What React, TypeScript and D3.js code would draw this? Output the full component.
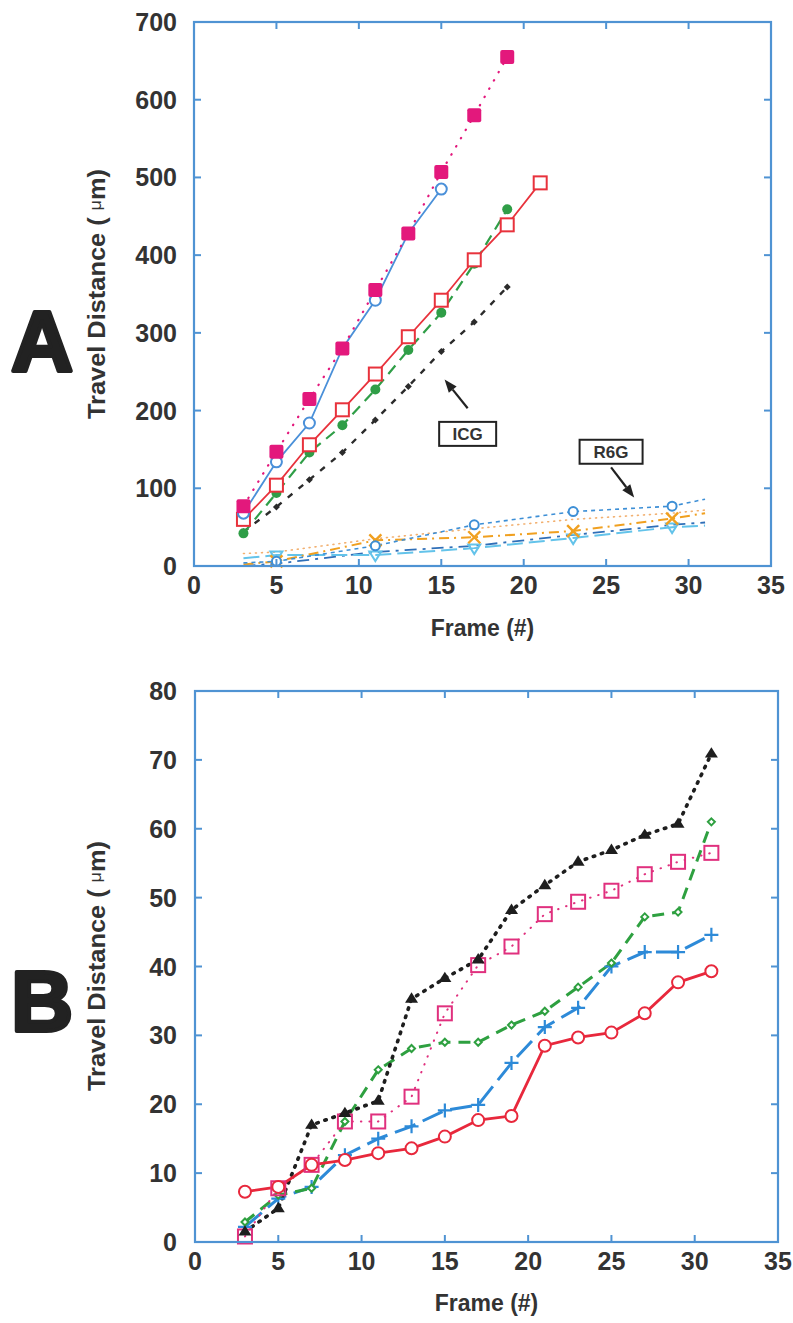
import React, { useEffect, useRef } from 'react';
import * as d3 from 'd3';

const W = 793;
const H = 1323;

// ---- panel A data (travel distance, um) ----
const xTicks = [0, 5, 10, 15, 20, 25, 30, 35];
const yTicksA = [0, 100, 200, 300, 400, 500, 600, 700];
const yTicksB = [0, 10, 20, 30, 40, 50, 60, 70, 80];

const framesIcg = [3, 5, 7, 9, 11, 13, 15, 17, 19, 21];
const icgMagenta = [77, 147, 215, 280, 355, 428, 507, 580, 655];
const icgBlue = [68, 134, 184, 280, 342, 428, 485];
const icgRed = [60, 104, 156, 201, 247, 295, 342, 394, 439, 493];
const icgGreen = [42, 94, 146, 181, 227, 278, 326, 389, 459];
const icgBlack = [44, 76, 111, 146, 188, 231, 276, 314, 359];

const framesR6g = [3, 5, 11, 17, 23, 29, 31];
const r6gCircle = [4, 6, 26, 53, 70, 77, 86];
const r6gDotted = [16, 18, 35, 48, 60, 68, 72];
const r6gCross = [2, 6, 33, 37, 45, 61, 68];
const r6gDash = [0, 3, 18, 26, 40, 53, 56];
const r6gTri = [10, 14, 14, 23, 36, 50, 52];

// ---- panel B data ----
const framesB = [3, 5, 7, 9, 11, 13, 15, 17, 19, 21, 23, 25, 27, 29, 31];
const bRed = [7.3, 8.0, 11.2, 11.9, 12.9, 13.6, 15.3, 17.7, 18.3, 28.5, 29.7, 30.4, 33.2, 37.7, 39.3];
const bBlack = [1.5, 4.9, 17.0, 18.7, 20.5, 35.3, 38.3, 41.0, 48.2, 51.8, 55.2, 56.9, 59.1, 60.7, 70.9];
const bMagenta = [0.8, 7.8, 11.2, 17.5, 17.5, 21.1, 33.2, 40.2, 42.9, 47.6, 49.4, 51.0, 53.4, 55.2, 56.5];
const bGreen = [2.9, 6.8, 7.8, 17.5, 25.0, 28.1, 29.0, 29.0, 31.5, 33.5, 37.0, 40.5, 47.2, 47.9, 61.0];
const bBlue = [2.2, 6.3, 8.0, 12.6, 15.0, 16.8, 19.1, 19.9, 26.0, 31.2, 34.0, 40.0, 42.1, 42.1, 44.6];

const AXIS = '#4f93d3';
const TEXT = '#333';
const FONT = '"Liberation Sans", Arial, Helvetica, sans-serif';

type Series = {
  frames: number[];
  values: number[];
  color: string;
  width: number;
  dash: string | null;
  cap?: string;
  marker: string | null;
  size: number;
  markAt?: number[];
};

const seriesA: Series[] = [
  { frames: framesIcg, values: icgBlack, color: '#2b2b2b', width: 2.4, dash: '6,8', marker: 'diamond', size: 3.5 },
  { frames: framesIcg, values: icgGreen, color: '#2f9e47', width: 2.2, dash: '11,7', marker: 'circleFill', size: 5 },
  { frames: framesIcg, values: icgRed, color: '#e8323c', width: 1.8, dash: null, marker: 'square', size: 6.5 },
  { frames: framesIcg, values: icgBlue, color: '#4a90d9', width: 1.8, dash: null, marker: 'circle', size: 5.5 },
  { frames: framesIcg, values: icgMagenta, color: '#e3187c', width: 2.2, dash: '0.5,9', cap: 'round', marker: 'squareFill', size: 7 },
  { frames: framesR6g, values: r6gDash, color: '#2f6fb8', width: 1.8, dash: '12,6,3,6', marker: null, size: 0 },
  { frames: framesR6g, values: r6gDotted, color: '#f2b070', width: 1.6, dash: '1,5', cap: 'round', marker: null, size: 0 },
  { frames: framesR6g, values: r6gTri, color: '#63c3ea', width: 2, dash: '16,6', marker: 'triDown', size: 6, markAt: [5, 11, 17, 23, 29] },
  { frames: framesR6g, values: r6gCross, color: '#f0a020', width: 2, dash: '10,5,2,5', marker: 'x', size: 6, markAt: [5, 11, 17, 23, 29] },
  { frames: framesR6g, values: r6gCircle, color: '#3d8fd6', width: 1.6, dash: '4,4', marker: 'circle', size: 4.5, markAt: [5, 11, 17, 23, 29] },
];

const seriesB: Series[] = [
  { frames: framesB, values: bBlue, color: '#2d8ad8', width: 3, dash: '22,8', marker: 'plus', size: 7 },
  { frames: framesB, values: bGreen, color: '#2ea040', width: 3, dash: '12,8', marker: 'diamondOpen', size: 3.5 },
  { frames: framesB, values: bMagenta, color: '#e0307e', width: 2, dash: '0.5,8', cap: 'round', marker: 'squareOpen', size: 7 },
  { frames: framesB, values: bBlack, color: '#1e1e1e', width: 3.6, dash: '1.5,7', cap: 'round', marker: 'triUp', size: 6.5 },
  { frames: framesB, values: bRed, color: '#e8283c', width: 2.8, dash: null, marker: 'circle', size: 6 },
];

type Sel = d3.Selection<SVGGElement, unknown, null, undefined>;

const drawMarker = (g: Sel, type: string, cx: number, cy: number, color: string, s: number) => {
  if (type === 'squareFill') {
    g.append('rect').attr('x', cx - s).attr('y', cy - s).attr('width', 2 * s).attr('height', 2 * s)
      .attr('rx', 2).attr('fill', color);
  } else if (type === 'square' || type === 'squareOpen') {
    g.append('rect').attr('x', cx - s).attr('y', cy - s).attr('width', 2 * s).attr('height', 2 * s)
      .attr('fill', type === 'square' ? '#fff' : 'none').attr('stroke', color).attr('stroke-width', 2);
  } else if (type === 'circle') {
    g.append('circle').attr('cx', cx).attr('cy', cy).attr('r', s)
      .attr('fill', '#fff').attr('stroke', color).attr('stroke-width', 2);
  } else if (type === 'circleFill') {
    g.append('circle').attr('cx', cx).attr('cy', cy).attr('r', s).attr('fill', color);
  } else if (type === 'diamond') {
    g.append('path').attr('d', `M${cx},${cy - s}L${cx + s},${cy}L${cx},${cy + s}L${cx - s},${cy}Z`).attr('fill', color);
  } else if (type === 'diamondOpen') {
    g.append('path').attr('d', `M${cx},${cy - s}L${cx + s},${cy}L${cx},${cy + s}L${cx - s},${cy}Z`)
      .attr('fill', '#fff').attr('stroke', color).attr('stroke-width', 2);
  } else if (type === 'x') {
    g.append('path').attr('d', `M${cx - s},${cy - s}L${cx + s},${cy + s}M${cx + s},${cy - s}L${cx - s},${cy + s}`)
      .attr('stroke', color).attr('stroke-width', 2.4);
  } else if (type === 'plus') {
    g.append('path').attr('d', `M${cx - s},${cy}L${cx + s},${cy}M${cx},${cy - s}L${cx},${cy + s}`)
      .attr('stroke', color).attr('stroke-width', 2.2);
  } else if (type === 'triDown') {
    g.append('path').attr('d', `M${cx - s},${cy - s * 0.6}L${cx + s},${cy - s * 0.6}L${cx},${cy + s}Z`)
      .attr('fill', 'none').attr('stroke', color).attr('stroke-width', 2);
  } else if (type === 'triUp') {
    g.append('path').attr('d', `M${cx - s},${cy + s * 0.6}L${cx + s},${cy + s * 0.6}L${cx},${cy - s}Z`).attr('fill', color);
  }
};

const drawFrame = (g: Sel, x: d3.ScaleLinear<number, number>, y: d3.ScaleLinear<number, number>, yTicks: number[], xTitleY: number, titleCy: number) => {
  const [x0, x1] = x.range();
  const [y0, y1] = y.range();
  const tick = 7;

  g.append('rect').attr('x', x0).attr('y', y1).attr('width', x1 - x0).attr('height', y0 - y1)
    .attr('fill', 'none').attr('stroke', AXIS).attr('stroke-width', 2.2);

  xTicks.forEach(t => {
    const px = x(t);
    g.append('line').attr('x1', px).attr('x2', px).attr('y1', y0).attr('y2', y0 - tick).attr('stroke', AXIS).attr('stroke-width', 2);
    g.append('line').attr('x1', px).attr('x2', px).attr('y1', y1).attr('y2', y1 + tick).attr('stroke', AXIS).attr('stroke-width', 2);
    g.append('text').attr('x', px).attr('y', y0 + 28).attr('text-anchor', 'middle')
      .attr('fill', TEXT).style('font-family', FONT).style('font-size', '25px').style('font-weight', 'bold').text(t);
  });

  yTicks.forEach(t => {
    const py = y(t);
    g.append('line').attr('x1', x0).attr('x2', x0 + tick).attr('y1', py).attr('y2', py).attr('stroke', AXIS).attr('stroke-width', 2);
    g.append('line').attr('x1', x1).attr('x2', x1 - tick).attr('y1', py).attr('y2', py).attr('stroke', AXIS).attr('stroke-width', 2);
    g.append('text').attr('x', 177).attr('y', py + 9).attr('text-anchor', 'end')
      .attr('fill', TEXT).style('font-family', FONT).style('font-size', '25px').style('font-weight', 'bold').text(t);
  });

  g.append('text').attr('x', (x0 + x1) / 2).attr('y', xTitleY).attr('text-anchor', 'middle')
    .attr('fill', TEXT).style('font-family', FONT).style('font-size', '23px').style('font-weight', 'bold').text('Frame (#)');

  const yt = g.append('text')
    .attr('transform', `translate(105, ${titleCy}) rotate(-90)`)
    .attr('text-anchor', 'middle')
    .attr('textLength', 250).attr('lengthAdjust', 'spacingAndGlyphs')
    .attr('fill', TEXT).style('font-family', '"Liberation Sans Narrow", "Liberation Sans", Arial, sans-serif')
    .style('font-size', '24px').style('font-weight', 'bold');
  yt.append('tspan').text('Travel Distance ( ');
  yt.append('tspan').style('font-size', '17px').style('font-weight', 'normal').attr('dy', -4).text('\u03bc');
  yt.append('tspan').attr('dy', 4).text('m)');
};

const drawSeries = (g: Sel, list: Series[], x: d3.ScaleLinear<number, number>, y: d3.ScaleLinear<number, number>) => {
  list.forEach(s => {
    const pts: [number, number][] = s.values.map((v, i) => [s.frames[i], v]);
    const line = d3.line<[number, number]>().x(d => x(d[0])).y(d => y(d[1]));
    const p = g.append('path').attr('d', line(pts)).attr('fill', 'none')
      .attr('stroke', s.color).attr('stroke-width', s.width).attr('stroke-linecap', s.cap || 'butt');
    if (s.dash) p.attr('stroke-dasharray', s.dash);
  });
  list.forEach(s => {
    if (!s.marker) return;
    s.values.forEach((v, i) => {
      const f = s.frames[i];
      if (s.markAt && !s.markAt.includes(f)) return;
      drawMarker(g, s.marker as string, x(f), y(v), s.color, s.size);
    });
  });
};

const drawLabel = (g: Sel, x: d3.ScaleLinear<number, number>, y: d3.ScaleLinear<number, number>, label: string, bx: number, by: number, w: number) => {
  const cx = x(bx);
  const cy = y(by);
  g.append('rect').attr('x', cx - w / 2).attr('y', cy - 12).attr('width', w).attr('height', 24)
    .attr('fill', '#fff').attr('stroke', '#222').attr('stroke-width', 2);
  g.append('text').attr('x', cx).attr('y', cy + 6).attr('text-anchor', 'middle')
    .attr('fill', TEXT).style('font-family', FONT).style('font-size', '17px').style('font-weight', 'bold').text(label);
};

const drawArrow = (g: Sel, x: d3.ScaleLinear<number, number>, y: d3.ScaleLinear<number, number>, from: [number, number], to: [number, number]) => {
  const x1 = x(from[0]), y1 = y(from[1]), x2 = x(to[0]), y2 = y(to[1]);
  const a = Math.atan2(y2 - y1, x2 - x1);
  const L = 13, hw = 5;
  const bx = x2 - L * Math.cos(a), by = y2 - L * Math.sin(a);
  g.append('line').attr('x1', x1).attr('y1', y1).attr('x2', bx).attr('y2', by).attr('stroke', '#222').attr('stroke-width', 2.2);
  g.append('path')
    .attr('d', `M${x2},${y2}L${bx + hw * Math.sin(a)},${by - hw * Math.cos(a)}L${bx - hw * Math.sin(a)},${by + hw * Math.cos(a)}Z`)
    .attr('fill', '#222');
};

export default function App() {
  const ref = useRef<SVGSVGElement>(null);

  useEffect(() => {
    const svg = d3.select(ref.current);
    svg.selectAll('*').remove();

    // Panel A
    const gA = svg.append('g') as unknown as Sel;
    const xA = d3.scaleLinear().domain([0, 35]).range([194, 771]);
    const yA = d3.scaleLinear().domain([0, 700]).range([566, 22]);
    drawSeries(gA, seriesA, xA, yA);
    drawFrame(gA, xA, yA, yTicksA, 636, 294);
    drawLabel(gA, xA, yA, 'ICG', 16.6, 170, 57);
    drawArrow(gA, xA, yA, [16.6, 203], [15.2, 240]);
    drawLabel(gA, xA, yA, 'R6G', 25.3, 147, 63);
    drawArrow(gA, xA, yA, [25.3, 127], [26.7, 88]);

    // Panel B
    const gB = svg.append('g') as unknown as Sel;
    const xB = d3.scaleLinear().domain([0, 35]).range([195, 778]);
    const yB = d3.scaleLinear().domain([0, 80]).range([1242, 691]);
    drawSeries(gB, seriesB, xB, yB);
    drawFrame(gB, xB, yB, yTicksB, 1311, 966);

    // panel letters
    [['A', 371], ['B', 1031]].forEach(([l, yy]) => {
      svg.append('text').attr('x', 42).attr('y', yy as number).attr('text-anchor', 'middle')
        .attr('fill', '#222').attr('stroke', '#222').attr('stroke-width', 4).attr('stroke-linejoin', 'round')
        .style('font-family', FONT).style('font-size', '86px').style('font-weight', 'bold').text(l as string);
    });
  }, []);

  return (
    <svg ref={ref} width={W} height={H}
      style={{ position: 'absolute', left: 0, top: 0, background: '#fff', display: 'block' }} />
  );
}
